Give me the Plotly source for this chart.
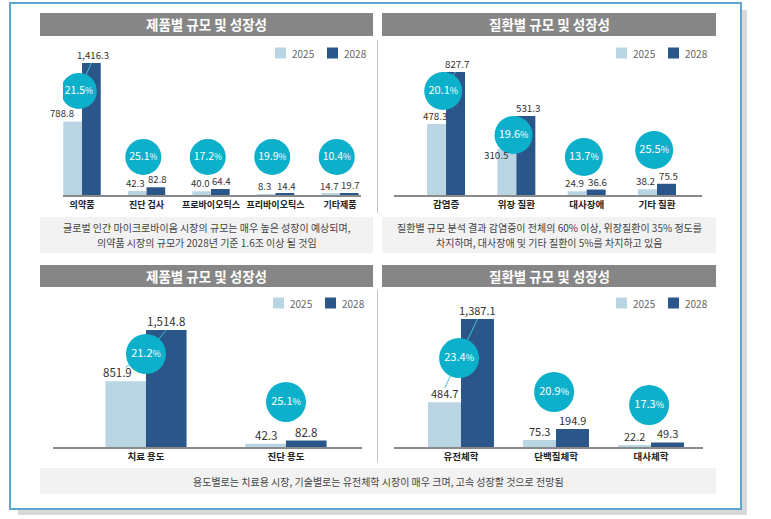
import plotly.graph_objects as go

W, H = 771, 519
FONT = "Noto Sans CJK KR, Noto Sans, sans-serif"
LIGHT = "#b9d5e3"
DARK = "#2a5689"
TEAL = "#0cb0ca"
LINE_TEAL = "#45bfd4"

# ---------------- data ----------------
series_names = ["2025", "2028"]

tl_title = "제품별 규모 및 성장성"
tl_categories = ["의약품", "진단 검사", "프로바이오틱스", "프리바이오틱스", "기타제품"]
tl_2025 = [788.8, 42.3, 40.0, 8.3, 14.7]
tl_2028 = [1416.3, 82.8, 64.4, 14.4, 19.7]
tl_cagr = [21.5, 25.1, 17.2, 19.9, 10.4]
tl_note = ["글로벌 인간 마이크로바이옴 시장의 규모는 매우 높은 성장이 예상되며,",
           "의약품 시장의 규모가 2028년 기준 1.6조 이상 될 것임"]

tr_title = "질환별 규모 및 성장성"
tr_categories = ["감염증", "위장 질환", "대사장애", "기타 질환"]
tr_2025 = [478.3, 310.5, 24.9, 38.2]
tr_2028 = [827.7, 531.3, 36.6, 75.5]
tr_cagr = [20.1, 19.6, 13.7, 25.5]
tr_note = ["질환별 규모 분석 결과 감염증이 전체의 60% 이상, 위장질환이 35% 정도를",
           "차지하며, 대사장애 및 기타 질환이 5%를 차지하고 있음"]

bl_title = "제품별 규모 및 성장성"
bl_categories = ["치료 용도", "진단 용도"]
bl_2025 = [851.9, 42.3]
bl_2028 = [1514.8, 82.8]
bl_cagr = [21.2, 25.1]

br_title = "질환별 규모 및 성장성"
br_categories = ["유전체학", "단백질체학", "대사체학"]
br_2025 = [484.7, 75.3, 22.2]
br_2028 = [1387.1, 194.9, 49.3]
br_cagr = [23.4, 20.9, 17.3]

bottom_note = ["용도별로는 치료용 시장, 기술별로는 유전체학 시장이 매우 크며, 고속 성장할 것으로 전망됨"]


def PX(p):
    return p / W


def PY(p):
    return 1 - p / H


# ---------------- layout of each panel (pixels) ----------------
panels = [
    dict(title=tl_title, cats=tl_categories, v25=tl_2025, v28=tl_2028, cagr=tl_cagr,
         xdom=(63, 361), ydom=(195, 45), xr=(-0.295, 4.326), ymax=1609.4, bw=0.29,
         bub_y=[1116, 408, 408, 408, 408], bub_dx=-0.05, bub_size=36, bub_font=10.5, tick_font=9,
         val_font=9.6, pair_spread=1.5, title_box=(40, 373, 13, 36), legend_xy=(275, 53),
         links=[(0, "up")], label_shift={(0, 0): (-11, 0)}),
    dict(title=tr_title, cats=tr_categories, v25=tr_2025, v28=tr_2028, cagr=tr_cagr,
         xdom=(394, 702), ydom=(195, 45), xr=(-0.74, 3.64), ymax=1009.4, bw=0.27,
         bub_y=[700, 404, 256, 303], bub_dx=-0.04, bub_size=38, bub_font=11, tick_font=9.5,
         val_font=9.8, pair_spread=1.8, title_box=(382, 716, 13, 36), legend_xy=(616, 53),
         links=[(0, "up")], label_shift={(1, 0): (-11, -14), (2, 0): (-3, 0)}),
    dict(title=bl_title, cats=bl_categories, v25=bl_2025, v28=bl_2028, cagr=bl_cagr,
         xdom=(53, 362), ydom=(447, 310), xr=(-0.664, 1.543), ymax=1773.8, bw=0.29,
         bub_y=[1204, 583], bub_dx=0.0, bub_size=40, bub_font=11, tick_font=9.5,
         val_font=11.5, pair_spread=0, title_box=(40, 373, 265, 287), legend_xy=(273, 303),
         links=[(0, "up"), (0, "down")], label_shift={(0, 0): (-8, 0)}),
    dict(title=br_title, cats=br_categories, v25=br_2025, v28=br_2028, cagr=br_cagr,
         xdom=(394, 703), ydom=(447, 310), xr=(-0.705, 2.547), ymax=1484.6, bw=0.347,
         bub_y=[964, 596, 455], bub_dx=-0.02, bub_size=40, bub_font=11, tick_font=9.5,
         val_font=11, pair_spread=0, title_box=(382, 716, 265, 287), legend_xy=(616, 303),
         links=[(0, "up"), (0, "down")], label_shift={}),
]

fig = go.Figure()
shapes = []
annotations = []
layout_axes = {}

# background frame + shadow
shapes.append(dict(type="rect", xref="paper", yref="paper", x0=PX(742), x1=PX(747), y0=PY(10), y1=PY(515),
                   fillcolor="#d9d9d9", line=dict(width=0), layer="below"))
shapes.append(dict(type="rect", xref="paper", yref="paper", x0=PX(18), x1=PX(747), y0=PY(510), y1=PY(515),
                   fillcolor="#d9d9d9", line=dict(width=0), layer="below"))
shapes.append(dict(type="rect", xref="paper", yref="paper", x0=PX(10), x1=PX(741), y0=PY(509), y1=PY(3),
                   fillcolor="white", line=dict(color="#5fa6cf", width=2), layer="below"))

# dividers
for y0, y1 in [(40, 213), (290, 462)]:
    shapes.append(dict(type="line", xref="paper", yref="paper", x0=PX(377.5), x1=PX(377.5),
                       y0=PY(y0), y1=PY(y1), line=dict(color="#c4c4c4", width=1)))

# note boxes (one annotation per line)
LINE_STEP = 15
note_boxes = [((40, 373, 217, 253), tl_note), ((382, 716, 217, 253), tr_note), ((40, 716, 468, 494), bottom_note)]
for (x0, x1, y0, y1), lines in note_boxes:
    shapes.append(dict(type="rect", xref="paper", yref="paper", x0=PX(x0), x1=PX(x1), y0=PY(y1), y1=PY(y0),
                       fillcolor="#f2f2f2", line=dict(width=0), layer="below"))
    yc = (y0 + y1) / 2 - (len(lines) - 1) * LINE_STEP / 2
    for n, txt in enumerate(lines):
        annotations.append(dict(xref="paper", yref="paper", x=PX((x0 + x1) / 2), y=PY(yc + n * LINE_STEP),
                                text=txt, showarrow=False, xanchor="center", yanchor="middle", borderpad=0,
                                font=dict(family=FONT, size=10, color="#444444")))

series_colors = [LIGHT, DARK]

for i, p in enumerate(panels, start=1):
    sfx = "" if i == 1 else str(i)
    xa, ya = "x" + sfx, "y" + sfx
    idx = list(range(len(p["cats"])))
    bw = p["bw"]
    pxpu = (p["ydom"][0] - p["ydom"][1]) / p["ymax"]

    fig.add_trace(go.Bar(x=idx, y=p["v25"], width=bw, offset=-bw, name=series_names[0],
                         marker=dict(color=LIGHT, line=dict(width=0)), xaxis=xa, yaxis=ya,
                         showlegend=False, hoverinfo="skip"))
    fig.add_trace(go.Bar(x=idx, y=p["v28"], width=bw, offset=0, name=series_names[1],
                         marker=dict(color=DARK, line=dict(width=0)), xaxis=xa, yaxis=ya,
                         showlegend=False, hoverinfo="skip"))

    bx = [k + p["bub_dx"] for k in idx]

    # connector lines
    for k, kind in p["links"]:
        if kind == "up":
            lx, ly = [bx[k], k + bw / 2], [p["bub_y"][k], p["v28"][k]]
        else:
            lx, ly = [bx[k], k - bw / 2], [p["bub_y"][k], p["v25"][k] + 14 / pxpu]
        fig.add_trace(go.Scatter(x=lx, y=ly, mode="lines", line=dict(color=LINE_TEAL, width=1),
                                 xaxis=xa, yaxis=ya, showlegend=False, hoverinfo="skip"))

    # growth bubbles
    fig.add_trace(go.Scatter(
        x=bx, y=p["bub_y"], mode="markers+text",
        marker=dict(size=p["bub_size"], color=TEAL, line=dict(width=0)),
        text=[f"{c:.1f}<span style='font-size:{p['bub_font'] - 2}px'>%</span>" for c in p["cagr"]],
        textposition="middle center",
        textfont=dict(family=FONT, size=p["bub_font"], color="white"),
        xaxis=xa, yaxis=ya, showlegend=False, hoverinfo="skip"))

    # value labels
    for s, vals in enumerate([p["v25"], p["v28"]]):
        spread = -p["pair_spread"] if s == 0 else p["pair_spread"]
        for k, v in enumerate(vals):
            dx, dy = p["label_shift"].get((k, s), (spread, 0))
            annotations.append(dict(xref=xa, yref=ya, x=k - bw / 2 if s == 0 else k + bw / 2, y=v,
                                    text=f"{v:,.1f}", showarrow=False, xanchor="center", yanchor="bottom",
                                    xshift=dx, yshift=dy, borderpad=0,
                                    font=dict(family=FONT, size=p["val_font"], color="#333333")))

    # legend (square + label per series)
    lx0, lyc = p["legend_xy"]
    for s, name in enumerate(series_names):
        sx = lx0 + 52 * s
        shapes.append(dict(type="rect", xref="paper", yref="paper", x0=PX(sx), x1=PX(sx + 11),
                           y0=PY(lyc + 5.5), y1=PY(lyc - 5.5), fillcolor=series_colors[s], line=dict(width=0)))
        annotations.append(dict(xref="paper", yref="paper", x=PX(sx + 15), y=PY(lyc), text=name,
                                showarrow=False, xanchor="left", yanchor="middle",
                                font=dict(family=FONT, size=10, color="#666666")))

    # title bar
    x0, x1, y0, y1 = p["title_box"]
    shapes.append(dict(type="rect", xref="paper", yref="paper", x0=PX(x0), x1=PX(x1), y0=PY(y1), y1=PY(y0),
                       fillcolor="#868686", line=dict(width=0), layer="below"))
    annotations.append(dict(xref="paper", yref="paper", x=PX((x0 + x1) / 2), y=PY((y0 + y1) / 2),
                            text=p["title"], showarrow=False, xanchor="center", yanchor="middle",
                            font=dict(family=FONT, size=13.5, color="white", weight=700)))

    layout_axes["xaxis" + sfx] = dict(
        domain=[PX(p["xdom"][0]), PX(p["xdom"][1])], range=list(p["xr"]), anchor=ya,
        tickmode="array", tickvals=idx, ticktext=p["cats"], ticks="", showgrid=False, zeroline=False,
        showline=True, linecolor="#8a8a8a", linewidth=2,
        tickfont=dict(family=FONT, size=p["tick_font"], color="#222222", weight=700),
        fixedrange=True)
    layout_axes["yaxis" + sfx] = dict(
        domain=[PY(p["ydom"][0]), PY(p["ydom"][1])], range=[0, p["ymax"]], anchor=xa,
        showgrid=False, zeroline=False, showticklabels=False, ticks="", showline=False, fixedrange=True)

fig.update_layout(
    width=W, height=H, margin=dict(l=0, r=0, t=0, b=0),
    paper_bgcolor="white", plot_bgcolor="rgba(0,0,0,0)",
    font=dict(family=FONT), barmode="overlay", showlegend=False,
    shapes=shapes, annotations=annotations, **layout_axes)

fig.write_html("out.html", config={"displayModeBar": False},
               post_script="document.body.style.margin='0';document.body.style.overflow='hidden';")
